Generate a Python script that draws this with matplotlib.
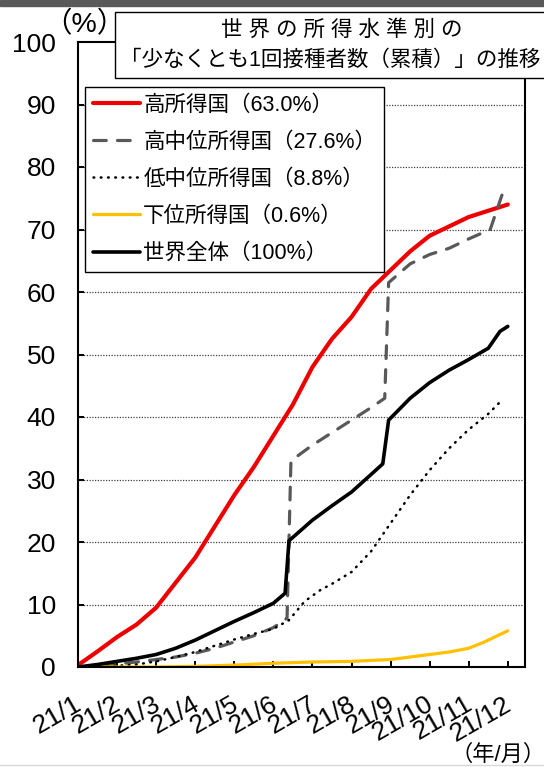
import numpy as np
import matplotlib.pyplot as plt
from matplotlib.patches import Rectangle
from matplotlib.lines import Line2D
import matplotlib.transforms as mtransforms

plt.rcParams['font.family'] = ['Liberation Sans', 'Noto Sans CJK JP', 'DejaVu Sans']

# month index: 0 = 2021/1/1, 11 = 2021/12/1
month_labels = ['21/1', '21/2', '21/3', '21/4', '21/5', '21/6',
                '21/7', '21/8', '21/9', '21/10', '21/11', '21/12']

# high income
hi_t = [0, 0.5, 1.0, 1.5, 2.0, 2.5, 3.0, 3.5, 4.0, 4.5, 5.0, 5.5, 6.0,
        6.5, 7.0, 7.5, 8.0, 8.5, 9.0, 9.5, 10.0, 10.5, 11.0]
hi_v = [0.3, 2.5, 4.8, 6.8, 9.5, 13.5, 17.5, 22.5, 27.5, 32.0, 37.0, 42.0, 48.0,
        52.5, 56.0, 60.5, 63.5, 66.5, 69.0, 70.5, 72.0, 73.0, 74.0]

# upper middle income
um_t = [0, 0.5, 1.0, 1.5, 2.0, 2.5, 3.0, 3.5, 4.0, 4.5, 5.0, 5.35, 5.45,
        6.0, 6.5, 7.0, 7.5, 7.85, 7.95, 8.5, 9.0, 9.5, 10.0, 10.55, 10.85]
um_v = [0, 0.2, 0.5, 0.8, 1.2, 1.6, 2.2, 3.0, 4.0, 5.0, 6.3, 7.8, 33.0,
        35.5, 37.5, 39.5, 41.5, 43.0, 61.5, 64.5, 66.0, 67.0, 68.5, 70.0, 75.5]

# lower middle income
lm_t = [0, 0.5, 1.0, 1.5, 2.0, 2.5, 3.0, 3.5, 4.0, 4.5, 5.0, 5.4, 5.8,
        6.2, 6.5, 7.0, 7.5, 8.0, 8.5, 9.0, 9.5, 10.0, 10.5, 10.85]
lm_v = [0, 0.1, 0.2, 0.4, 0.9, 1.6, 2.4, 3.4, 4.4, 5.3, 6.1, 7.5, 10.5,
        12.3, 13.3, 15.2, 18.5, 23.0, 27.5, 31.5, 35.0, 38.0, 40.5, 42.7]

# low income
lo_t = [0, 1, 2, 3, 4, 5, 6, 7, 8, 8.5, 9, 9.5, 10, 10.4, 11]
lo_v = [0, 0, 0, 0.1, 0.3, 0.6, 0.8, 0.9, 1.2, 1.6, 2.0, 2.4, 3.0, 4.0, 5.8]

# world total
wd_t = [0, 0.5, 1.0, 1.5, 2.0, 2.5, 3.0, 3.5, 4.0, 4.5, 5.0, 5.3, 5.4,
        6.0, 6.5, 7.0, 7.5, 7.8, 7.95, 8.5, 9.0, 9.5, 10.0, 10.5, 10.8, 11.0]
wd_v = [0, 0.4, 0.9, 1.4, 2.0, 3.0, 4.3, 5.8, 7.3, 8.7, 10.2, 11.8, 20.2,
        23.5, 25.8, 28.0, 30.8, 32.5, 39.5, 43.0, 45.5, 47.5, 49.2, 51.0, 53.7, 54.5]

labels = ['高所得国（63.0%）', '高中位所得国（27.6%）', '低中位所得国（8.8%）',
          '下位所得国（0.6%）', '世界全体（100%）']

W, H = 544, 767
fig = plt.figure(figsize=(W / 100, H / 100), dpi=100)
ax = fig.add_axes([78 / W, 100 / H, (525 - 78) / W, (667 - 42) / H])

kw = dict(solid_capstyle='round', dash_capstyle='round')
ax.plot(hi_t, hi_v, color='#ee0000', lw=3.0, label=labels[0], **kw)
ax.plot(um_t, um_v, color='#595959', lw=2.3, linestyle=(0, (4, 3.5)), label=labels[1], **kw)
ax.plot(lm_t, lm_v, color='black', lw=1.8, linestyle=(0, (0.3, 2.6)), label=labels[2], **kw)
ax.plot(lo_t, lo_v, color='#ffc000', lw=2.3, label=labels[3], **kw)
ax.plot(wd_t, wd_v, color='black', lw=2.6, label=labels[4], **kw)

ax.set_xlim(0, 11.44)
ax.set_ylim(0, 100)
ax.set_yticks(np.arange(0, 101, 10))
ax.set_xticks(np.arange(12))

ax.tick_params(axis='both', direction='in', length=4.5, width=1.4, labelsize=19)
ax.tick_params(axis='y', pad=16)
ax.tick_params(axis='x', pad=18)
for s in ax.spines.values():
    s.set_linewidth(1.5)

# month labels slanted, nudged a little to the right of each tick
ax.set_xticklabels(month_labels, rotation=30, ha='right', va='top')
shift = mtransforms.ScaledTranslation(8 / 100, 0, fig.dpi_scale_trans)
for lbl in ax.get_xticklabels():
    lbl.set_transform(lbl.get_transform() + shift)

for v in range(10, 100, 10):
    ax.axhline(v, color='#404040', lw=0.9, linestyle=(0, (1, 1.2)), zorder=0)

leg = ax.legend(loc='upper left', bbox_to_anchor=(0.016, 0.928), fontsize=15.5,
                frameon=True, fancybox=False, edgecolor='black', framealpha=1,
                handlelength=2.2, handletextpad=0.15, labelspacing=0.75,
                borderpad=0.35, borderaxespad=0)
leg.get_frame().set_linewidth(1.0)

# header strip and title box
fig.patches.append(Rectangle((0, 1 - 6 / H), 1, 6 / H, transform=fig.transFigure,
                             color='#595959', zorder=0))
fig.patches.append(Rectangle((115 / W, 1 - 78 / H), (560 - 115) / W, 66 / H,
                             transform=fig.transFigure, facecolor='white',
                             edgecolor='black', lw=1.0, zorder=5))
fig.text(342 / W, 1 - 30 / H, '世 界 の 所 得 水 準 別 の', ha='center', va='center',
         fontsize=15.5, zorder=6)
fig.text(330 / W, 1 - 60 / H, '「少なくとも1回接種者数（累積）」の推移', ha='center',
         va='center', fontsize=15.5, zorder=6)
fig.text(84 / W, 1 - 25 / H, '（%）', ha='center', va='center', fontsize=20.5)
fig.text(450 / W, 1 - 755 / H, '（年/月）', ha='left', va='center', fontsize=16)
fig.lines.append(Line2D([0, 1], [1 - 765 / H] * 2, transform=fig.transFigure,
                        color='#d9d9d9', lw=1.0))

fig.savefig('out.png', dpi=100)
